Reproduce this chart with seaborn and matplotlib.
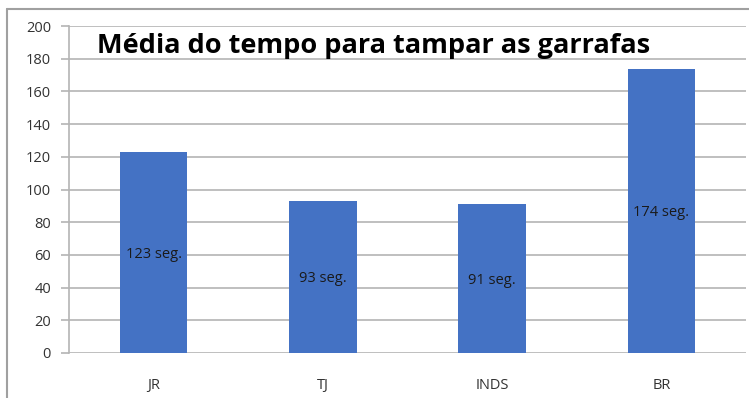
import matplotlib
matplotlib.use("Agg")
import matplotlib.pyplot as plt
from matplotlib.lines import Line2D
import seaborn as sns
import pandas as pd

categories = ["JR", "TJ", "INDS", "BR"]
seconds = [123, 93, 91, 174]
title = "Média do tempo para tampar as garrafas"
y_ticks = [0, 20, 40, 60, 80, 100, 120, 140, 160, 180, 200]

df = pd.DataFrame({"grupo": categories, "tempo": seconds})

sns.set_theme(style="white")
plt.rcParams["font.family"] = ["Open Sans", "DejaVu Sans"]

fig = plt.figure(figsize=(7.49, 3.98), dpi=100)
ax = fig.add_axes([69 / 749, 45 / 398, 677 / 749, 327 / 398])

grid_color = "#b4b4b4"
ax.set_axisbelow(True)
ax.yaxis.grid(True, color=grid_color, linewidth=1.2)

sns.barplot(data=df, x="grupo", y="tempo", color="#4472C4", width=0.4,
            saturation=1, linewidth=0, ax=ax)

ax.set_ylim(0, 200)
ax.set_xlim(-0.5, len(categories) - 0.5)
ax.set_yticks(y_ticks)
ax.set_xlabel("")
ax.set_ylabel("")

for side in ["top", "right", "bottom"]:
    ax.spines[side].set_visible(False)
ax.spines["left"].set_color(grid_color)
ax.spines["left"].set_linewidth(1.2)

ax.tick_params(axis="y", which="major", left=True, length=6, width=1.2,
               color=grid_color, labelsize=10.5, labelcolor="#333333", pad=7)
ax.tick_params(axis="x", bottom=False, labelsize=10.5, labelcolor="#333333", pad=12)

# value labels centred inside each bar
for bar, val in zip(ax.patches, seconds):
    cx = bar.get_x() + bar.get_width() / 2
    ax.text(cx, val / 2, f"{val} seg.", ha="center", va="center_baseline",
            fontsize=10.5, color="#1a1a1a")

ax.text(0.041, 0.94, title, transform=ax.transAxes, ha="left", va="center",
        fontsize=19.5, fontweight="bold", color="black")

# outer frame of the chart area
fig.add_artist(Line2D([7 / 749, 7 / 749], [0, 1 - 9 / 398],
                      transform=fig.transFigure, color="#a0a0a0", linewidth=1.5))
fig.add_artist(Line2D([7 / 749, 1], [1 - 9 / 398, 1 - 9 / 398],
                      transform=fig.transFigure, color="#a0a0a0", linewidth=1.5))

fig.savefig("out.png", dpi=100)
